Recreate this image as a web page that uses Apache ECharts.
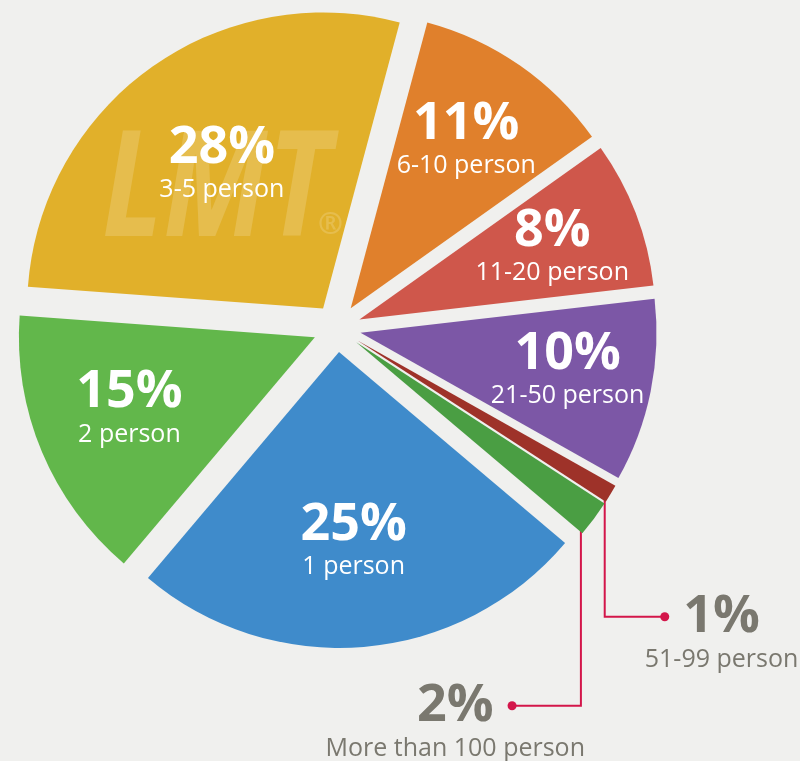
<!DOCTYPE html>
<html>
<head>
<meta charset="utf-8">
<script src="https://cdn.jsdelivr.net/npm/echarts@6/dist/echarts.min.js"></script>
<style>
html, body { margin: 0; padding: 0; background: #f0f0ee; }
#chart { width: 800px; height: 761px; }
</style>
</head>
<body>
<div id="chart"></div>
<script>
// household size groups, clockwise from the top
var groups = ['6-10 person', '11-20 person', '21-50 person', '51-99 person', 'More than 100 person', '1 person', '2 person', '3-5 person'];
var shares = [11, 8, 10, 1, 2, 25, 15, 28];
var sliceColors = ['#e0802c', '#cf574b', '#7c57a6', '#9e3229', '#4a9e43', '#3f8bcb', '#62b74b', '#e1b02a'];
var outsideGroups = ['51-99 person', 'More than 100 person'];

var font = '"Open Sans", "Noto Sans", sans-serif';
var grey = '#7a786f';
var lineColor = '#d3164a';

// small nudges [right, down] for the inside labels, same order as groups
var labelNudge = [[2, -6], [7, -2], [12, -3], [0, 0], [0, 0], [-2, -10], [-2, -7], [14, 17]];

// where the two small slices put their text (box width, distance to right edge, drop)
var outsideBox = {
    '51-99 person': { width: 180, edge: 9, drop: 274 },
    'More than 100 person': { width: 290, edge: 219, drop: 402 }
};

function isOutside(name) {
    return outsideGroups.indexOf(name) >= 0;
}

function nudgePadding(n) {
    return [Math.max(n[1], 0) * 2, Math.max(-n[0], 0) * 2, Math.max(-n[1], 0) * 2, Math.max(n[0], 0) * 2];
}

var mainData = [];
var labelData = [];
for (var i = 0; i < groups.length; i++) {
    var out = isOutside(groups[i]);
    var item = {
        name: groups[i],
        value: shares[i],
        selected: true,
        itemStyle: { color: sliceColors[i] },
        label: { show: out },
        labelLine: { show: out }
    };
    if (out) {
        var b = outsideBox[groups[i]];
        item.label.width = b.width;
        item.label.edgeDistance = b.edge;
        item.label.padding = [b.drop, 0, 0, 0];
    }
    mainData.push(item);
    labelData.push({
        name: groups[i],
        value: shares[i],
        selected: true,
        label: { show: !out, padding: nudgePadding(labelNudge[i]) }
    });
}

function outsideFormatter(p) {
    if (p.dataIndex == 3) {
        return '{dot|}{gap|}{big|' + p.value + '%}{gap|}{ghost|}\n{small|' + p.name + '}';
    }
    return '{ghost|}{gap|}{big|' + p.value + '%}{gap|}{dot|}\n{small|' + p.name + '}';
}

var chart = echarts.init(document.getElementById('chart'));

var option = {
    backgroundColor: '#f0f0ee',
    animation: false,
    graphic: [{
        type: 'text',
        left: 102,
        top: 120,
        z: 100,
        silent: true,
        scaleX: 0.8,
        style: {
            text: 'LMT',
            font: 'italic bold 148px ' + font,
            fill: 'rgba(255,255,255,0.17)'
        }
    }, {
        type: 'text',
        left: 318,
        top: 210,
        z: 100,
        silent: true,
        style: {
            text: '®',
            font: 'bold 30px ' + font,
            fill: 'rgba(255,255,255,0.17)'
        }
    }],
    series: [{
        type: 'pie',
        center: [337, 328],
        radius: [0, 296],
        startAngle: 75,
        clockwise: true,
        selectedMode: 'multiple',
        selectedOffset: 24,
        avoidLabelOverlap: false,
        silent: true,
        emphasis: { disabled: true },
        data: mainData,
        label: {
            position: 'outside',
            alignTo: 'edge',
            overflow: 'none',
            formatter: outsideFormatter,
            fontFamily: font,
            rich: {
                big: { fontSize: 52, fontWeight: 'bold', color: grey, lineHeight: 58, fontFamily: font, align: 'center' },
                small: { fontSize: 25, color: grey, lineHeight: 28, fontFamily: font, align: 'center' },
                dot: { width: 9, height: 9, borderRadius: 5, backgroundColor: lineColor, align: 'center' },
                ghost: { width: 9, height: 9, align: 'center' },
                gap: { width: 14, align: 'center' }
            }
        },
        labelLine: {
            show: true,
            length: 0,
            length2: 0,
            lineStyle: { color: lineColor, width: 2 }
        },
        labelLayout: function (params) {
            if (!params.labelLinePoints) return;
            var p0 = params.labelLinePoints[0];
            var x0, lineY, endX;
            if (params.dataIndex == 3) {
                x0 = p0[0] - 6;
                lineY = p0[1] + 123;
                endX = x0 + 61;
            } else if (params.dataIndex == 4) {
                x0 = p0[0] - 13;
                lineY = p0[1] + 187;
                endX = x0 - 70;
            } else {
                return;
            }
            var y0 = p0[1] - 2;
            return {
                labelLinePoints: [[x0 - 5, y0], [x0 + 5, y0], [x0, y0], [x0, lineY], [endX, lineY]]
            };
        }
    }, {
        // transparent ring that only carries the inside labels
        type: 'pie',
        center: [337, 328],
        radius: [96, 296],
        startAngle: 75,
        clockwise: true,
        selectedMode: 'multiple',
        selectedOffset: 24,
        silent: true,
        emphasis: { disabled: true },
        itemStyle: { color: 'rgba(0,0,0,0)' },
        labelLine: { show: false },
        data: labelData,
        label: {
            position: 'inside',
            formatter: '{big|{c}%}\n{small|{b}}',
            rich: {
                big: { fontSize: 52, fontWeight: 'bold', color: '#fff', lineHeight: 54, fontFamily: font },
                small: { fontSize: 25, color: '#fff', lineHeight: 30, fontFamily: font }
            }
        }
    }]
};

chart.setOption(option);
</script>
</body>
</html>
